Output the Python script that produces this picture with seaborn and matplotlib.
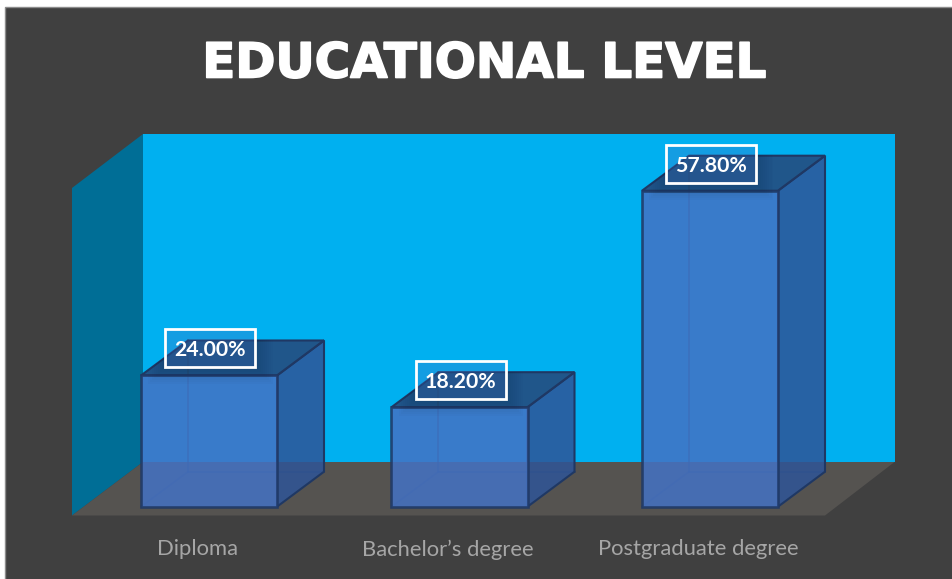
import matplotlib
matplotlib.use("Agg")
import matplotlib.pyplot as plt
import matplotlib.patheffects as pe
from matplotlib.patches import Polygon, Rectangle
from matplotlib.transforms import Affine2D
import pandas as pd
import seaborn as sns

categories = ["Diploma", "Bachelor\u2019s degree", "Postgraduate degree"]
shares = [24.00, 18.20, 57.80]

W, H = 953, 579
PX_PER_CAT = 250.5      # pixels between neighbouring categories
PX_PER_PCT = 5.467      # pixels per percentage point
ORIGIN_X, ORIGIN_Y = 209.0, 506.7   # where category 0 meets the zero line
DEPTH_X, DEPTH_Y = 47 / PX_PER_CAT, 35 / PX_PER_PCT

sns.set_theme(style="white")
plt.rcParams["font.family"] = ["Lato", "DejaVu Sans"]

fig = plt.figure(figsize=(W / 100, H / 100), dpi=100, facecolor="white")
ax = fig.add_axes([0, 0, 1, 1], zorder=2)
ax.patch.set_alpha(0)

df = pd.DataFrame({"category": categories, "share": shares})
sns.barplot(data=df, x="category", y="share", ax=ax, width=136 / PX_PER_CAT,
            color="#4472C4", saturation=1, alpha=0.85, zorder=5,
            edgecolor="#1F3864", linewidth=1.9)

ax.set_xlim(-ORIGIN_X / PX_PER_CAT, (W - ORIGIN_X) / PX_PER_CAT)
ax.set_ylim(-(H - ORIGIN_Y) / PX_PER_PCT, ORIGIN_Y / PX_PER_PCT)
ax.set_xlabel("")
ax.set_ylabel("")
ax.set_yticks([])
sns.despine(ax=ax, left=True, bottom=True)

# Category labels sit under the front edge of the floor, left of the bar centres.
ax.set_xticks([i - 11.5 / PX_PER_CAT for i in range(len(categories))])
ax.set_xticklabels(categories, fontsize=15.8, color="#A6A6A6")
ax.tick_params(axis="x", length=0, pad=-28.5)

# Room behind the bars, laid out in pixel coordinates from the top left.
px = Affine2D().scale(1, -1).translate(0, H)
scene = dict(transform=px, clip_on=False, linewidth=0)
ax.add_patch(Rectangle((5, 7), W, H, facecolor="#404040", edgecolor="#8C8C8C",
                       transform=px, clip_on=False, linewidth=1, zorder=0))
ax.add_patch(Rectangle((143, 134), 751.5, 328, facecolor="#00B0F0", zorder=1, **scene))
ax.add_patch(Polygon([(72, 188), (143, 134), (143, 462), (72, 515.5)],
                     facecolor="#006E96", zorder=1, **scene))
ax.add_patch(Polygon([(72, 515.5), (825, 515.5), (894.5, 462), (143, 462)],
                     facecolor="#555350", zorder=1, **scene))

EDGE = "#1F3864"
for bar, value in zip(ax.patches[:len(shares)], shares):
    x0, x1 = bar.get_x(), bar.get_x() + bar.get_width()

    # Hidden edges of the box, seen faintly through the front face.
    ax.plot([x0 + DEPTH_X, x0 + DEPTH_X, x1 + DEPTH_X],
            [value + DEPTH_Y, DEPTH_Y, DEPTH_Y], color=EDGE, alpha=0.6, lw=1.2, zorder=3)
    ax.plot([x0, x0 + DEPTH_X], [0, DEPTH_Y], color=EDGE, alpha=0.4, lw=1.2, zorder=3)

    side = [(x1, 0), (x1 + DEPTH_X, DEPTH_Y), (x1 + DEPTH_X, value + DEPTH_Y), (x1, value)]
    top = [(x0, value), (x1, value), (x1 + DEPTH_X, value + DEPTH_Y), (x0 + DEPTH_X, value + DEPTH_Y)]
    ax.add_patch(Polygon(side, facecolor="#2F5597", edgecolor="none", alpha=0.85, zorder=4))
    ax.add_patch(Polygon(side, fill=False, edgecolor=EDGE, lw=1.5, zorder=4))
    ax.add_patch(Polygon(top, facecolor="#264778", edgecolor="none", alpha=0.85, zorder=4))
    ax.add_patch(Polygon(top, fill=False, edgecolor=EDGE, lw=1.5, zorder=4))

    # Value label in a white outlined box above the front face.
    cx = (x0 + x1) / 2 + 1.5 / PX_PER_CAT
    cy = value + 27 / PX_PER_PCT
    bw, bh = 90 / PX_PER_CAT, 38 / PX_PER_PCT

    # Soft shadow of the label, falling only on the box it overlaps.
    shadow_area = Polygon([(x0, value - 12 / PX_PER_PCT), (x1, value - 12 / PX_PER_PCT), (x1, value),
                           (x1 + DEPTH_X, value + DEPTH_Y), (x0 + DEPTH_X, value + DEPTH_Y), (x0, value)],
                          transform=ax.transData)
    for grow in range(1, 19, 2):
        halo = Rectangle((cx - bw / 2 - grow / PX_PER_CAT, cy - bh / 2 - grow / PX_PER_PCT),
                         bw + 2 * grow / PX_PER_CAT, bh + 2 * grow / PX_PER_PCT,
                         facecolor="#10243F", alpha=0.022, linewidth=0, zorder=6)
        ax.add_patch(halo)
        halo.set_clip_path(shadow_area)
    ax.add_patch(Rectangle((cx - bw / 2, cy - bh / 2), bw, bh, facecolor="#4472C4", alpha=0.3,
                           linewidth=0, zorder=6))
    ax.add_patch(Rectangle((cx - bw / 2, cy - bh / 2), bw, bh, fill=False, edgecolor="white",
                           linewidth=2, zorder=7))
    ax.text(cx - 0.5 / PX_PER_CAT, cy, f"{value:.2f}%", ha="center", va="center_baseline",
            color="white", fontsize=15.3, fontweight="bold", zorder=8)

title = ax.text(485, 64, "EDUCATIONAL LEVEL", transform=px, ha="center", va="center",
                fontsize=34.8, fontweight="bold", color="white", family="DejaVu Sans",
                zorder=8)
title.set_path_effects([pe.withStroke(linewidth=1.2, foreground="white")])

fig.savefig("out.png", dpi=100, facecolor=fig.get_facecolor())
